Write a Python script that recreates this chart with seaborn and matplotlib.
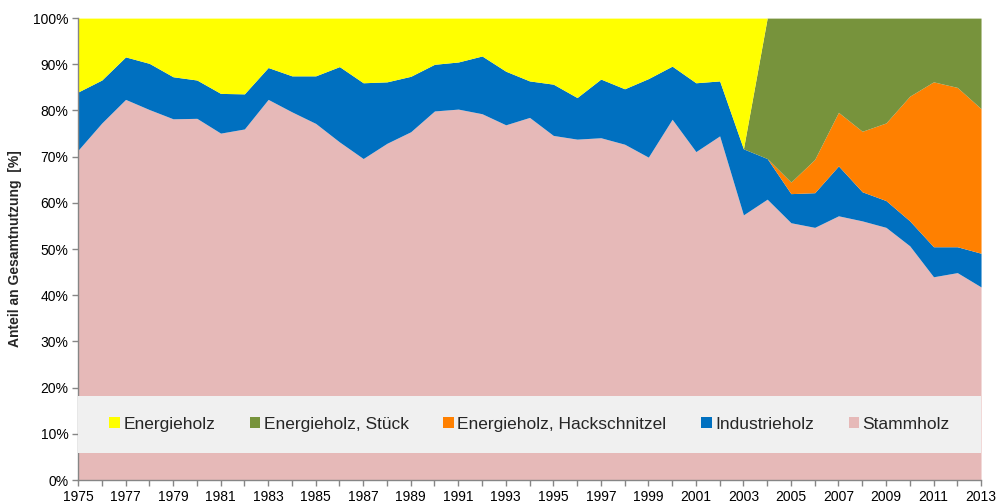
import numpy as np
import pandas as pd
import matplotlib
matplotlib.use("Agg")
import matplotlib.pyplot as plt
from matplotlib.patches import Rectangle, Patch
import seaborn as sns

years = list(range(1975, 2014))

# Stammholz share (%)
stammholz = [71.4, 77.3, 82.4, 80.2, 78.2, 78.3, 75.1, 76.0, 82.4, 79.7,
             77.2, 73.2, 69.6, 72.9, 75.4, 79.9, 80.3, 79.3, 76.9, 78.5,
             74.6, 73.8, 74.1, 72.7, 69.9, 78.1, 71.1, 74.5, 57.4, 60.8,
             55.7, 54.7, 57.2, 56.1, 54.7, 50.7, 44.0, 44.9, 41.8]
# Cumulative top of Industrieholz (%), used to derive the share
industrie_top = [84.0, 86.6, 91.6, 90.2, 87.3, 86.6, 83.7, 83.6, 89.3, 87.5,
                 87.5, 89.5, 86.0, 86.2, 87.4, 90.0, 90.5, 91.8, 88.5, 86.4,
                 85.7, 82.8, 86.8, 84.7, 86.9, 89.6, 86.0, 86.4, 71.7, 69.6,
                 62.0, 62.2, 68.0, 62.4, 60.5, 56.1, 50.5, 50.5, 49.1]
hackschnitzel = [0] * 29 + [0.0, 2.5, 7.2, 11.6, 13.1, 16.8, 27.0, 35.7, 34.5, 31.3]

industrie = [round(t - s, 1) for t, s in zip(industrie_top, stammholz)]
energie = [round(100 - t, 1) if y <= 2003 else 0.0 for y, t in zip(years, industrie_top)]
stueck = [0.0 if y <= 2003 else round(100 - t - h, 1)
          for y, t, h in zip(years, industrie_top, hackschnitzel)]

labels = ["Energieholz", "Energieholz, Stück", "Energieholz, Hackschnitzel",
          "Industrieholz", "Stammholz"]
colors = {"Energieholz": "#FFFF00", "Energieholz, Stück": "#77933C",
          "Energieholz, Hackschnitzel": "#FF8000", "Industrieholz": "#0070C0",
          "Stammholz": "#E6B9B8"}

df = pd.DataFrame({"Jahr": years, "Stammholz": stammholz, "Industrieholz": industrie,
                   "Energieholz, Hackschnitzel": hackschnitzel,
                   "Energieholz, Stück": stueck, "Energieholz": energie})

sns.set_theme(style="white")
plt.rcParams["font.family"] = ["Liberation Sans", "DejaVu Sans"]

fig = plt.figure(figsize=(9.98, 5.03), dpi=100)
ax = fig.add_axes([0.0782, 0.0457, 0.9048, 0.9183])

order = ["Stammholz", "Industrieholz", "Energieholz, Hackschnitzel",
         "Energieholz, Stück", "Energieholz"]
ax.stackplot(df["Jahr"], [df[c] for c in order],
             colors=[colors[c] for c in order], linewidth=0)

ax.set_xlim(1975, 2013)
ax.set_ylim(0, 100)
ax.set_xticks(range(1975, 2014, 2))
ax.set_xticks(range(1975, 2014), minor=True)
ax.set_yticks(range(0, 101, 10))
ax.set_yticklabels([f"{v}%" for v in range(0, 101, 10)])

sns.despine(ax=ax, top=True, right=True)
for s in ["left", "bottom"]:
    ax.spines[s].set_color("#868686")
    ax.spines[s].set_linewidth(1.0)
ax.tick_params(axis="both", which="both", direction="out", color="#868686",
               length=4, width=1, labelsize=10, labelcolor="black", pad=3)
ax.tick_params(axis="x", which="both", bottom=True)
ax.tick_params(axis="y", left=True)

ax.set_ylabel("Anteil an Gesamtnutzung  [%]", fontsize=10, fontweight="bold",
              labelpad=8)

# Legend band
ax.add_patch(Rectangle((0, 0.058), 1, 0.124, transform=ax.transAxes,
                       facecolor="#F0F0F0", edgecolor="none", zorder=3))
handles = [Patch(facecolor=colors[l], edgecolor="none") for l in labels]
leg = ax.legend(handles, labels, loc="center", bbox_to_anchor=(0.5, 0.12),
                ncol=5, frameon=False, fontsize=12.5, handlelength=0.6,
                handleheight=0.6, handletextpad=0.2, columnspacing=2.0)
leg.set_zorder(4)

fig.savefig("out.png", dpi=100)
